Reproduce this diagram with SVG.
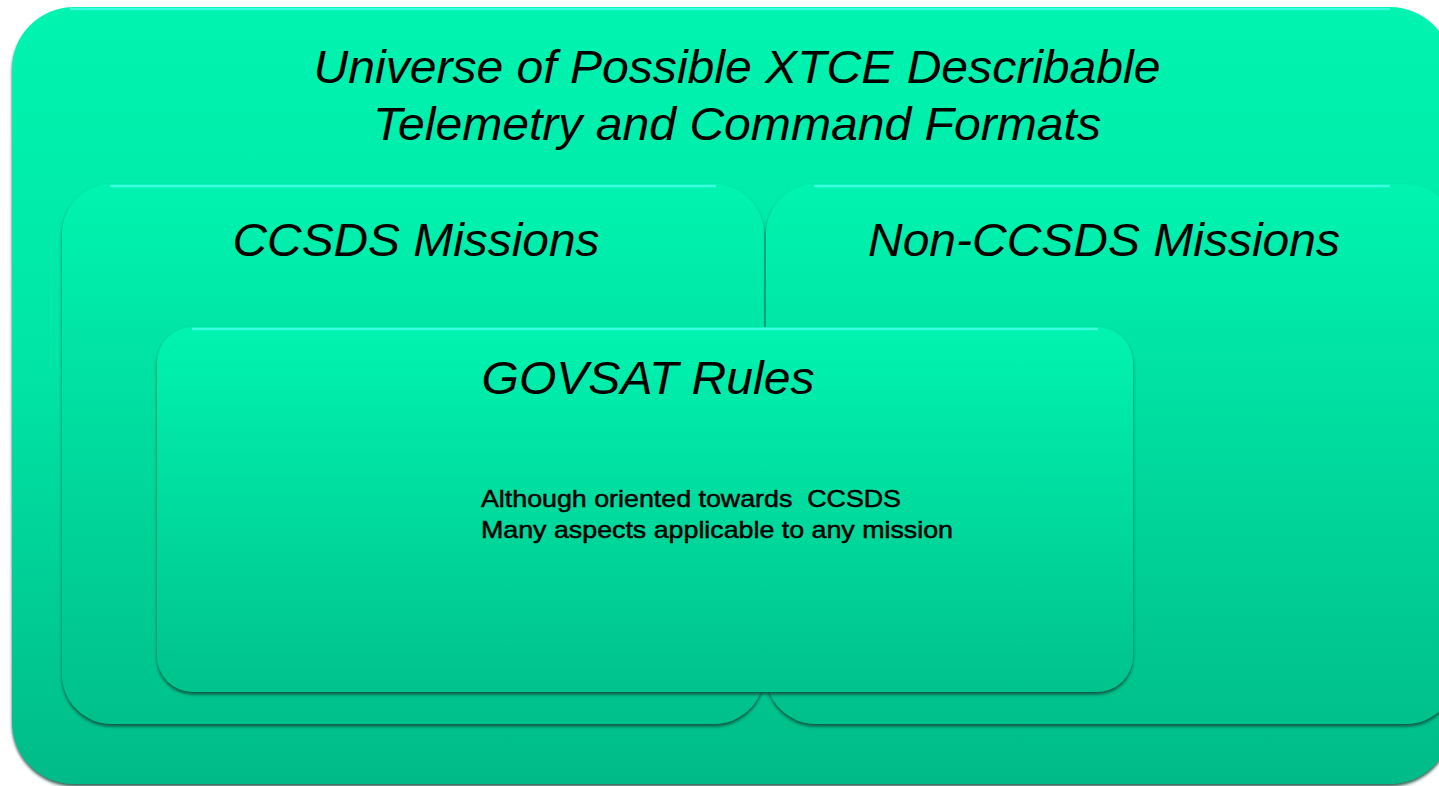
<svg xmlns="http://www.w3.org/2000/svg" width="1439" height="786" viewBox="0 0 1439 786">
<defs>
<linearGradient id="gOuter" x1="0" y1="0" x2="0" y2="1">
<stop offset="0" stop-color="#06F4B0"/>
<stop offset="0.45" stop-color="#05E6A6"/>
<stop offset="1" stop-color="#03BB88"/>
</linearGradient>
<linearGradient id="gMid" x1="0" y1="0" x2="0" y2="1">
<stop offset="0" stop-color="#06F4B0"/>
<stop offset="1" stop-color="#03C08B"/>
</linearGradient>
<linearGradient id="gIn" x1="0" y1="0" x2="0" y2="1">
<stop offset="0" stop-color="#06F4B0"/>
<stop offset="1" stop-color="#03C28C"/>
</linearGradient>
<filter id="shadow" x="-5%" y="-5%" width="110%" height="115%">
<feDropShadow dx="0" dy="2.5" stdDeviation="1.8" flood-color="#0A4A38" flood-opacity="0.85"/>
</filter>
</defs>
<style>
.box{filter:url(#shadow);}
.hl{fill:none;stroke:#40FFE4;stroke-width:2.5;opacity:0.9;}
.title{font-family:"Liberation Sans",Arial,sans-serif;font-style:italic;font-size:46px;fill:#000;text-anchor:middle;}
.body{font-family:"Liberation Sans",Arial,sans-serif;font-size:24px;fill:#000;stroke:#000;stroke-width:0.5;white-space:pre;}
</style>
<rect width="1439" height="786" fill="#FFFFFF"/>
<g id="universe">
<rect class="box" x="12" y="7" width="1440" height="777" rx="62" fill="url(#gOuter)"/>
<path class="hl" d="M70,9 H1390"/>
<text class="title" x="737" y="83" textLength="847" lengthAdjust="spacingAndGlyphs">Universe of Possible XTCE Describable</text>
<text class="title" x="737" y="140" textLength="728" lengthAdjust="spacingAndGlyphs">Telemetry and Command Formats</text>
</g>
<g id="ccsds">
<rect class="box" x="62" y="184" width="702" height="540" rx="50" fill="url(#gMid)"/>
<path class="hl" d="M110,186 H716"/>
<text class="title" x="416" y="256" textLength="367" lengthAdjust="spacingAndGlyphs">CCSDS Missions</text>
</g>
<g id="nonccsds">
<rect class="box" x="766" y="184" width="690" height="540" rx="50" fill="url(#gMid)"/>
<path class="hl" d="M814,186 H1390"/>
<text class="title" x="1104" y="256" textLength="472" lengthAdjust="spacingAndGlyphs">Non-CCSDS Missions</text>
</g>
<g id="govsat">
<rect class="box" x="157" y="327" width="976" height="365" rx="36" fill="url(#gIn)"/>
<path class="hl" d="M192,329 H1098"/>
<text class="title" x="648" y="394" textLength="333" lengthAdjust="spacingAndGlyphs">GOVSAT Rules</text>
<text class="body" x="481" y="507" xml:space="preserve" textLength="420" lengthAdjust="spacingAndGlyphs">Although oriented towards  CCSDS</text>
<text class="body" x="481" y="538" textLength="472" lengthAdjust="spacingAndGlyphs">Many aspects applicable to any mission</text>
</g>
<g id="connectors"/>
</svg>
